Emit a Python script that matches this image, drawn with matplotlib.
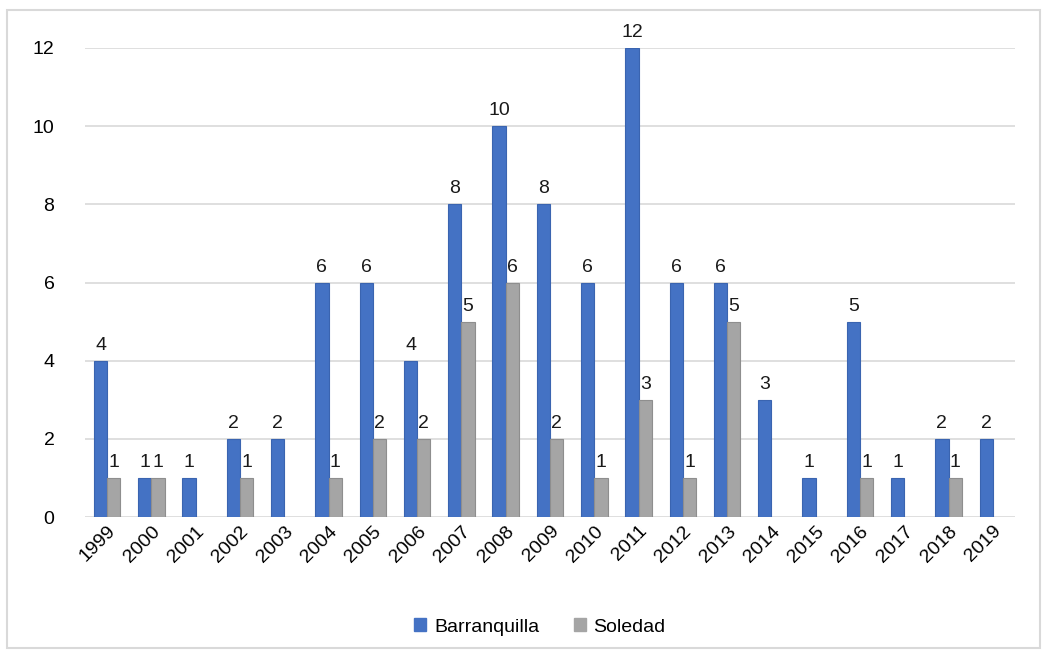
import matplotlib
matplotlib.use("Agg")
import matplotlib.pyplot as plt
import matplotlib.patches as mpatches
import numpy as np

plt.rcParams.update({
    "font.family": ["Liberation Sans", "DejaVu Sans"],
    "font.size": 14,
})

years = [str(y) for y in range(1999, 2020)]
barranquilla = [4, 1, 1, 2, 2, 6, 6, 4, 8, 10, 8, 6, 12, 6, 6, 3, 1, 5, 1, 2, 2]
soledad = [1, 1, None, 1, None, 1, 2, 2, 5, 6, 2, 1, 3, 1, 5, None, None, 1, None, 1, None]

BLUE = "#4472C4"
GRAY = "#A5A5A5"

fig = plt.figure(figsize=(10.48, 6.54), dpi=100)
ax = fig.add_axes([85 / 1048, 1 - 517 / 654, 930 / 1048, 469 / 654])

x = np.arange(len(years))
width = 0.3
sol = np.array([np.nan if v is None else v for v in soledad], dtype=float)

ax.bar(x - width / 2, barranquilla, width, color=BLUE,
       edgecolor="#3A64B0", linewidth=0.8, zorder=3)
ax.bar(x + width / 2, sol, width, color=GRAY,
       edgecolor="#8E8E8E", linewidth=0.8, zorder=3)

# value labels above each bar
for xi, v in zip(x - width / 2, barranquilla):
    ax.annotate(f"{v}", (xi, v), xytext=(0, 5), textcoords="offset points",
                ha="center", va="bottom", fontsize=14, color="#1a1a1a")
for xi, v in zip(x + width / 2, sol):
    if not np.isnan(v):
        ax.annotate(f"{int(v)}", (xi, v), xytext=(0, 5), textcoords="offset points",
                    ha="center", va="bottom", fontsize=14, color="#1a1a1a")

ax.set_xlim(-0.5, len(years) - 0.5)
ax.set_ylim(0, 12)
ax.set_yticks(range(0, 13, 2))
ax.yaxis.grid(True, color="#D9D9D9", linewidth=1.2, zorder=0)
ax.set_axisbelow(True)
ax.tick_params(axis="y", length=0, pad=22, labelsize=14)
ax.tick_params(axis="x", length=0, pad=4, labelsize=14)
ax.set_xticks(x)
ax.set_xticklabels(years, rotation=45, ha="right", rotation_mode="anchor")
for spine in ax.spines.values():
    spine.set_visible(False)

handles = [mpatches.Patch(color=BLUE, label="Barranquilla"),
           mpatches.Patch(color=GRAY, label="Soledad")]
fig.legend(handles=handles, loc="center", bbox_to_anchor=(540 / 1048, 1 - 627 / 654),
           ncol=2, frameon=False, fontsize=14, handlelength=0.6, handleheight=0.6,
           handletextpad=0.4, columnspacing=1.8)

# outer chart border
fig.patches.append(mpatches.Rectangle((7 / 1048, 1 - 648 / 654), 1033 / 1048, 638 / 654,
                                      transform=fig.transFigure, fill=False,
                                      edgecolor="#D9D9D9", linewidth=1.5))

fig.savefig("out.png", dpi=100)
